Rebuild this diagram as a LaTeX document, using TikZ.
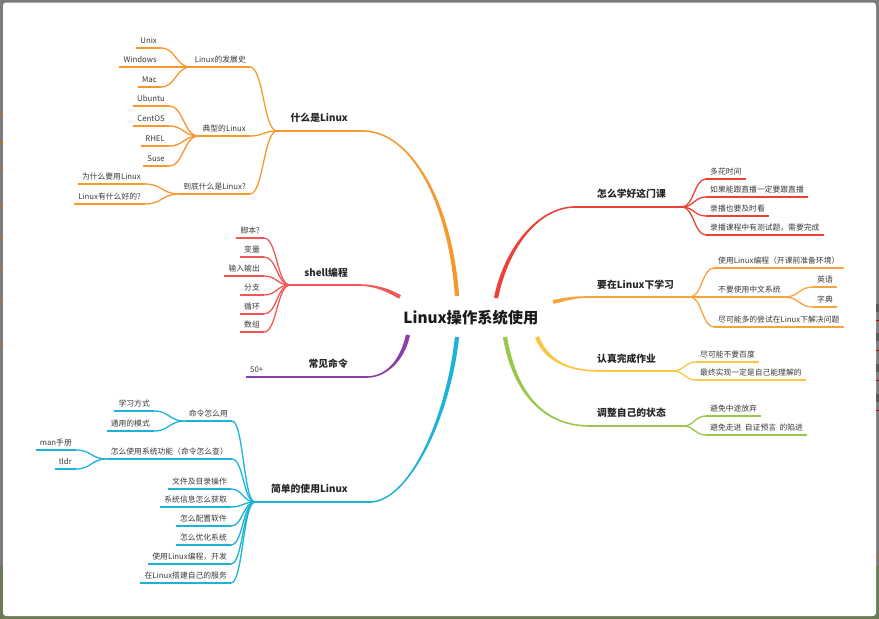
\documentclass[tikz,border=0pt]{standalone}
\usepackage{fontspec}
\setmainfont{Noto Sans CJK SC}
\usetikzlibrary{calc}
\definecolor{bggray}{HTML}{7B7B7B}
\definecolor{bggreen}{HTML}{6B7A58}
\definecolor{colA}{HTML}{F7982C}
\definecolor{colB}{HTML}{F25757}
\definecolor{colC}{HTML}{8A3FA8}
\definecolor{colD}{HTML}{1DB2D8}
\definecolor{colE}{HTML}{EC4136}
\definecolor{colF}{HTML}{F9A23E}
\definecolor{colG}{HTML}{FBC645}
\definecolor{colH}{HTML}{9AC64A}
\definecolor{leaftext}{HTML}{3A3A3A}
\definecolor{maintext}{HTML}{262626}
\tikzset{
  leaf/.style={font=\fontsize{7.8}{9}\selectfont, text=leaftext, inner xsep=4pt, inner ysep=0pt,
    text height=6pt, text depth=4.3pt},
  lfL/.style={leaf, anchor=south east},
  lfR/.style={leaf, anchor=south west},
  mainlab/.style={font=\bfseries\fontsize{9.8}{11}\selectfont, text=maintext, inner sep=0pt},
  mainL/.style={mainlab, anchor=base east},
  mainR/.style={mainlab, anchor=base west},
  rootlab/.style={font=\bfseries\fontsize{15.3}{17}\selectfont, text=black!90, inner sep=0pt, anchor=base},
  thinline/.style={line width=1.3pt},
}
% S-shaped link with horizontal tangents
\newcommand\mmlink[3]{\draw[#1, thinline] let \p1=(#2), \p2=(#3) in
  (\p1) .. controls ({0.5*\x1+0.5*\x2},\y1) and ({0.5*\x1+0.5*\x2},\y2) .. (\p2);}
% tapered main branch: color, start coord, ctrl1, ctrl2, end coord, start offset, end offset
\newcommand\mbranch[7]{\fill[#1] ($(#2)+#6$) .. controls ($#3+#6$) and ($#4+#7$) .. ($(#5)+#7$)
  -- ($(#5)-#7$) .. controls ($#4-#7$) and ($#3-#6$) .. ($(#2)-#6$) -- cycle;}
\begin{document}
\begin{tikzpicture}[x=1pt,y=-1pt]
\useasboundingbox (0,0) rectangle (879,619);
% background
\fill[bggray] (0,0) rectangle (879,619);
\fill[bggreen] (0,566) rectangle (879,619);
\fill[white, rounded corners=3pt] (3,2.5) rectangle (876,616);
\foreach \yy in {115,143,170,205,237,268,300,346} {\draw[colA!75!black, line width=1.2pt] (0,\yy) -- (3,\yy);}
\foreach \yy in {308,337,368,398} {\fill[black!65] (876,\yy-4) rectangle (879,\yy+4);}
\foreach \yy in {320,350,380,410} {\draw[red!75!black, line width=1pt] (876,\yy) -- (879,\yy);}
\draw[colA!75!black, line width=1pt] (876,555) -- (879,555);

% root
\node[rootlab] (root) at (471,323) {Linux操作系统使用};

% main coordinates
\coordinate (cA) at (457,296); \coordinate (bA) at (363,131); \coordinate (pA) at (277,131);
\coordinate (cB) at (400,297); \coordinate (bB) at (358,285); \coordinate (pB) at (290,285);
\coordinate (cC) at (408,335); \coordinate (bC) at (367,377); \coordinate (pC) at (290,377);
\coordinate (cD) at (457,337); \coordinate (bD) at (370,502); \coordinate (pD) at (255,502);
\coordinate (cE) at (496,298); \coordinate (bE) at (575,207); \coordinate (pE) at (682,207);
\coordinate (cF) at (553,302); \coordinate (bF) at (588,297); \coordinate (pF) at (690,297);
\coordinate (cG) at (537,337); \coordinate (bG) at (600,371); \coordinate (pG) at (673,371);
\coordinate (cH) at (505,337); \coordinate (bH) at (590,426); \coordinate (pH) at (683,426);

% main branches
\mbranch{colA}{cA}{(450,200)}{(410,131)}{bA}{(2.1,-0.15)}{(0,-0.8)}
\mbranch{colB}{cB}{(388,290)}{(375,285)}{bB}{(1.0,-1.7)}{(0,-0.8)}
\mbranch{colC}{cC}{(402,362)}{(385,377)}{bC}{(-2.05,-0.46)}{(0,-0.8)}
\mbranch{colD}{cD}{(448,420)}{(408,502)}{bD}{(-2.09,-0.23)}{(0,-0.8)}
\mbranch{colE}{cE}{(507,245)}{(540,207)}{bE}{(2.06,0.43)}{(0,0.8)}
\mbranch{colF}{cF}{(566,299)}{(575,297)}{bF}{(0.43,1.85)}{(0,0.8)}
\mbranch{colG}{cG}{(547,362)}{(570,371)}{bG}{(-1.95,0.78)}{(0,0.8)}
\mbranch{colH}{cH}{(515,395)}{(545,426)}{bH}{(-2.07,0.36)}{(0,0.8)}
\foreach \cc/\a/\b in {colA/pA/bA, colB/pB/bB, colC/pC/bC, colD/pD/bD, colE/bE/pE, colF/bF/pF, colG/bG/pG, colH/bH/pH}
  {\draw[\cc, line width=1.6pt] (\a) -- (\b);}

% main labels
\node[mainL] (A) at (348,121.6) {什么是Linux};
\node[mainL] (B) at (348,276.6) {shell编程};
\node[mainL] (C) at (348,367.6) {常见命令};
\node[mainL] (D) at (348,492.6) {简单的使用Linux};
\node[mainR] (E) at (597,197.6) {怎么学好这门课};
\node[mainR] (F) at (597,288.6) {要在Linux下学习};
\node[mainR] (G) at (597,362.6) {认真完成作业};
\node[mainR] (H) at (597,416.6) {调整自己的状态};

% ---- A: 什么是Linux
\node[lfL] (a1) at (250,67) {Linux的发展史};
\node[lfL] (a2) at (250,136) {典型的Linux};
\node[lfL] (a3) at (250,194) {到底什么是Linux?};
\node[lfL] (a11) at (161,48) {Unix};
\node[lfL] (a12) at (161,67) {Windows};
\node[lfL] (a13) at (161,87) {Mac};
\node[lfL] (a21) at (169,106) {Ubuntu};
\node[lfL] (a22) at (169,126) {CentOS};
\node[lfL] (a23) at (169,146) {RHEL};
\node[lfL] (a24) at (169,166) {Suse};
\node[lfL] (a31) at (145,184) {为什么要用Linux};
\node[lfL] (a32) at (145,204) {Linux有什么好的?};
\foreach \k in {a1,a2,a3} {\mmlink{colA}{pA}{\k.south east}}
\foreach \k in {a11,a12,a13} {\mmlink{colA}{a1.south west}{\k.south east}}
\foreach \k in {a21,a22,a23,a24} {\mmlink{colA}{a2.south west}{\k.south east}}
\foreach \k in {a31,a32} {\mmlink{colA}{a3.south west}{\k.south east}}
\foreach \k in {a1,a2,a3,a11,a12,a13,a21,a22,a23,a24,a31,a32}
  {\draw[colA, thinline] (\k.south west) -- (\k.south east);}

% ---- B: shell编程
\node[lfL] (b1) at (264,238) {脚本?};
\node[lfL] (b2) at (264,257) {变量};
\node[lfL] (b3) at (264,276) {输入输出};
\node[lfL] (b4) at (264,295) {分支};
\node[lfL] (b5) at (264,314) {循环};
\node[lfL] (b6) at (264,332) {数组};
\foreach \k in {b1,b2,b3,b4,b5,b6} {\mmlink{colB}{pB}{\k.south east}
  \draw[colB, thinline] (\k.south west) -- (\k.south east);}

% ---- C: 常见命令
\node[lfR] (c1) at (246,377) {50+};
\draw[colC, thinline] (c1.south west) -- (c1.south east) -- (pC);

% ---- D: 简单的使用Linux
\node[lfL] (d1) at (232,421) {命令怎么用};
\node[lfL] (d2) at (232,459) {怎么使用系统功能（命令怎么查）};
\node[lfL] (d3) at (231,489) {文件及目录操作};
\node[lfL] (d4) at (231,507) {系统信息怎么获取};
\node[lfL] (d5) at (231,526) {怎么配置软件};
\node[lfL] (d6) at (231,545) {怎么优化系统};
\node[lfL] (d7) at (231,564) {使用Linux编程，开发};
\node[lfL] (d8) at (231,583) {在Linux搭建自己的服务};
\node[lfL] (d11) at (154,411) {学习方式};
\node[lfL] (d12) at (154,431) {通用的模式};
\node[lfL] (d21) at (76,450) {man手册};
\node[lfL] (d22) at (76,469) {tldr};
\foreach \k in {d1,d2,d3,d4,d5,d6,d7,d8} {\mmlink{colD}{pD}{\k.south east}}
\foreach \k in {d11,d12} {\mmlink{colD}{d1.south west}{\k.south east}}
\foreach \k in {d21,d22} {\mmlink{colD}{d2.south west}{\k.south east}}
\foreach \k in {d1,d2,d3,d4,d5,d6,d7,d8,d11,d12,d21,d22}
  {\draw[colD, thinline] (\k.south west) -- (\k.south east);}

% ---- E: 怎么学好这门课
\node[lfR] (e1) at (706,179) {多花时间};
\node[lfR] (e2) at (706,197) {如果能跟直播一定要跟直播};
\node[lfR] (e3) at (706,216) {录播也要及时看};
\node[lfR] (e4) at (706,235) {录播课程中有测试题，需要完成};
\foreach \k in {e1,e2,e3,e4} {\mmlink{colE}{pE}{\k.south west}
  \draw[colE, thinline] (\k.south west) -- (\k.south east);}

% ---- F: 要在Linux下学习
\node[lfR] (f1) at (714,268) {使用Linux编程（开课前准备环境）};
\node[lfR] (f2) at (714,297) {不要使用中文系统};
\node[lfR] (f3) at (714,327) {尽可能多的尝试在Linux下解决问题};
\node[lfR] (f21) at (813,287) {英语};
\node[lfR] (f22) at (813,307) {字典};
\foreach \k in {f1,f2,f3} {\mmlink{colF}{pF}{\k.south west}}
\foreach \k in {f21,f22} {\mmlink{colF}{f2.south east}{\k.south west}}
\foreach \k in {f1,f2,f3,f21,f22}
  {\draw[colF, thinline] (\k.south west) -- (\k.south east);}

% ---- G: 认真完成作业
\node[lfR] (g1) at (696,362) {尽可能不要百度};
\node[lfR] (g2) at (696,380) {最终实现一定是自己能理解的};
\foreach \k in {g1,g2} {\mmlink{colG}{pG}{\k.south west}
  \draw[colG, thinline] (\k.south west) -- (\k.south east);}

% ---- H: 调整自己的状态
\node[lfR] (h1) at (706,416) {避免中途放弃};
\node[lfR] (h2) at (706,435) {避免走进\ \ 自证预言\ \ 的陷进};
\foreach \k in {h1,h2} {\mmlink{colH}{pH}{\k.south west}
  \draw[colH, thinline] (\k.south west) -- (\k.south east);}
\end{tikzpicture}
\end{document}
